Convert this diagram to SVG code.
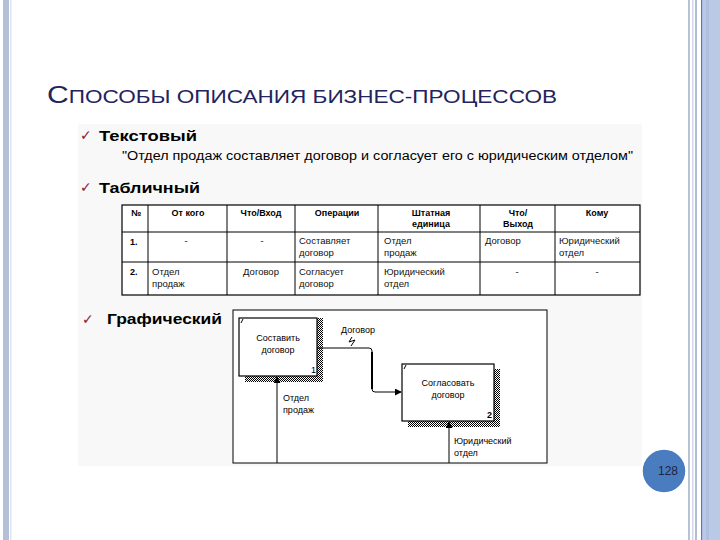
<svg xmlns="http://www.w3.org/2000/svg" width="720" height="540" viewBox="0 0 720 540">
<defs>
<pattern id="hatch" width="2" height="2" patternUnits="userSpaceOnUse">
<rect width="2" height="2" fill="#ffffff"/>
<rect width="1" height="1" fill="#000"/>
<rect x="1" y="1" width="1" height="1" fill="#000"/>
</pattern>
<marker id="arr" viewBox="0 0 8 8" refX="7" refY="4" markerWidth="7" markerHeight="7" markerUnits="userSpaceOnUse" orient="auto">
<path d="M0,0 L8,4 L0,8 z" fill="#000"/>
</marker>
</defs>
<style>
.t{font-family:"Liberation Sans",Arial,sans-serif;fill:#000}
.h{font-family:"Liberation Sans",Arial,sans-serif;font-size:9px;font-weight:bold;fill:#000}
.c{font-family:"Liberation Sans",Arial,sans-serif;font-size:9.5px;fill:#111}
.d{font-family:"Liberation Sans",Arial,sans-serif;font-size:9px;fill:#000}
.chk{font-family:"DejaVu Sans",sans-serif;font-size:14px;fill:#8b1a3a}
.ln{stroke:#000;stroke-width:1;fill:none}
</style>
<rect width="720" height="540" fill="#ffffff"/>
<!-- slide decorations -->
<rect x="3" y="0" width="6" height="540" fill="#b4c0d6"/>
<rect x="10" y="0" width="1.5" height="540" fill="#dde4f0"/>
<rect x="688" y="0" width="2" height="540" fill="#b8c2d6"/>
<rect x="692" y="0" width="1.5" height="540" fill="#d2d8e6"/>
<rect x="695" y="0" width="2" height="540" fill="#b2bdd4"/>
<rect x="701" y="0" width="1.5" height="540" fill="#5a78c0"/>
<rect x="703" y="0" width="17" height="540" fill="#b9c9e6"/>
<rect x="706" y="0" width="3" height="540" fill="#aebfdf"/>
<!-- title -->
<text x="47" y="103" font-family="Liberation Sans, Arial, sans-serif" font-size="18" fill="#23235e" textLength="510" lengthAdjust="spacingAndGlyphs"><tspan font-size="24">С</tspan>ПОСОБЫ ОПИСАНИЯ БИЗНЕС-ПРОЦЕССОВ</text>
<!-- pasted content background -->
<rect x="78" y="124" width="564" height="342" fill="#f8f8f8"/>
<!-- text section -->
<text class="chk" x="80" y="140">✓</text>
<text class="t" x="99" y="141" font-size="15.5" font-weight="bold" textLength="98" lengthAdjust="spacingAndGlyphs">Текстовый</text>
<text class="t" x="122" y="160" font-size="12.5" fill="#222" textLength="511" lengthAdjust="spacingAndGlyphs">"Отдел продаж составляет договор и согласует его с юридическим отделом"</text>
<text class="chk" x="80" y="192">✓</text>
<text class="t" x="99" y="193" font-size="15.5" font-weight="bold" textLength="101" lengthAdjust="spacingAndGlyphs">Табличный</text>
<!-- table -->
<g id="table">
<rect x="122" y="205" width="518" height="90" fill="#ffffff" stroke="#000" stroke-width="1.2"/>
<g class="ln">
<line x1="122" y1="232" x2="640" y2="232"/>
<line x1="122" y1="262" x2="640" y2="262"/>
<line x1="148" y1="205" x2="148" y2="295"/>
<line x1="227" y1="205" x2="227" y2="295"/>
<line x1="295" y1="205" x2="295" y2="295"/>
<line x1="378" y1="205" x2="378" y2="295"/>
<line x1="480" y1="205" x2="480" y2="295"/>
<line x1="555" y1="205" x2="555" y2="295"/>
</g>
<text class="h" x="131" y="216">№</text>
<text class="h" x="188" y="216" text-anchor="middle">От кого</text>
<text class="h" x="261" y="216" text-anchor="middle">Что/Вход</text>
<text class="h" x="337" y="216" text-anchor="middle">Операции</text>
<text class="h" x="431" y="216" text-anchor="middle">Штатная</text>
<text class="h" x="431" y="227" text-anchor="middle">единица</text>
<text class="h" x="518" y="216" text-anchor="middle">Что/</text>
<text class="h" x="518" y="227" text-anchor="middle">Выход</text>
<text class="h" x="597" y="216" text-anchor="middle">Кому</text>
<text class="h" x="130" y="245" font-size="11">1.</text>
<text class="c" x="186" y="244" text-anchor="middle">-</text>
<text class="c" x="262" y="244" text-anchor="middle">-</text>
<text class="c" x="299" y="244">Составляет</text>
<text class="c" x="299" y="256">договор</text>
<text class="c" x="384" y="244">Отдел</text>
<text class="c" x="384" y="256">продаж</text>
<text class="c" x="485" y="244">Договор</text>
<text class="c" x="559" y="244">Юридический</text>
<text class="c" x="559" y="256">отдел</text>
<text class="h" x="130" y="275" font-size="11">2.</text>
<text class="c" x="152" y="275">Отдел</text>
<text class="c" x="152" y="287">продаж</text>
<text class="c" x="261" y="275" text-anchor="middle">Договор</text>
<text class="c" x="299" y="275">Согласует</text>
<text class="c" x="299" y="287">договор</text>
<text class="c" x="384" y="275">Юридический</text>
<text class="c" x="384" y="287">отдел</text>
<text class="c" x="517" y="275" text-anchor="middle">-</text>
<text class="c" x="597" y="275" text-anchor="middle">-</text>
</g>
<!-- graphic section -->
<text class="chk" x="82" y="324">✓</text>
<text class="t" x="107" y="324" font-size="15.5" font-weight="bold" textLength="115" lengthAdjust="spacingAndGlyphs">Графический</text>
<rect x="233" y="310" width="314" height="153" fill="#ffffff" stroke="#000" stroke-width="1"/>
<g id="box1">
<rect x="245" y="318" width="78" height="64" fill="url(#hatch)"/>
<rect x="239" y="318" width="78" height="58" fill="#ffffff" stroke="#000" stroke-width="1.2"/>
<line x1="241" y1="323" x2="243" y2="319" class="ln"/>
<text class="d" x="278" y="341" text-anchor="middle">Составить</text>
<text class="d" x="278" y="353" text-anchor="middle">договор</text>
<text class="d" x="311" y="373" font-size="7">1</text>
</g>
<g id="box2">
<rect x="408" y="369" width="92" height="58" fill="url(#hatch)"/>
<rect x="402" y="364" width="92" height="57" fill="#ffffff" stroke="#000" stroke-width="1.2"/>
<line x1="404" y1="369" x2="406" y2="365" class="ln"/>
<text class="d" x="448" y="386" text-anchor="middle">Согласовать</text>
<text class="d" x="448" y="398" text-anchor="middle">договор</text>
<text class="d" x="487" y="418" font-size="7" font-weight="bold">2</text>
</g>
<g id="connectors">
<path d="M317,348 L369,348 Q372,348 372,351 L372,389 Q372,392 375,392 L401,392" class="ln" marker-end="url(#arr)"/>
<line x1="372" y1="352" x2="372" y2="389" stroke="#000" stroke-width="2"/>
<path d="M352,337 L349,342 L355,340 L351,346" class="ln" stroke-width="0.9"/>
<line x1="277" y1="463" x2="277" y2="377" class="ln" marker-end="url(#arr)"/>
<line x1="449" y1="463" x2="449" y2="422" class="ln" marker-end="url(#arr)"/>
<text class="d" x="341" y="333">Договор</text>
<text class="d" x="283" y="401">Отдел</text>
<text class="d" x="283" y="413">продаж</text>
<text class="d" x="454" y="444">Юридический</text>
<text class="d" x="454" y="456">отдел</text>
</g>
<!-- page number -->
<g id="page">
<circle cx="664" cy="471" r="22" fill="#4a7cc0" stroke="#ffffff" stroke-width="1.5"/>
<text x="668" y="475" font-family="Liberation Sans, Arial, sans-serif" font-size="12" fill="#1c2640" text-anchor="middle">128</text>
</g>
</svg>
